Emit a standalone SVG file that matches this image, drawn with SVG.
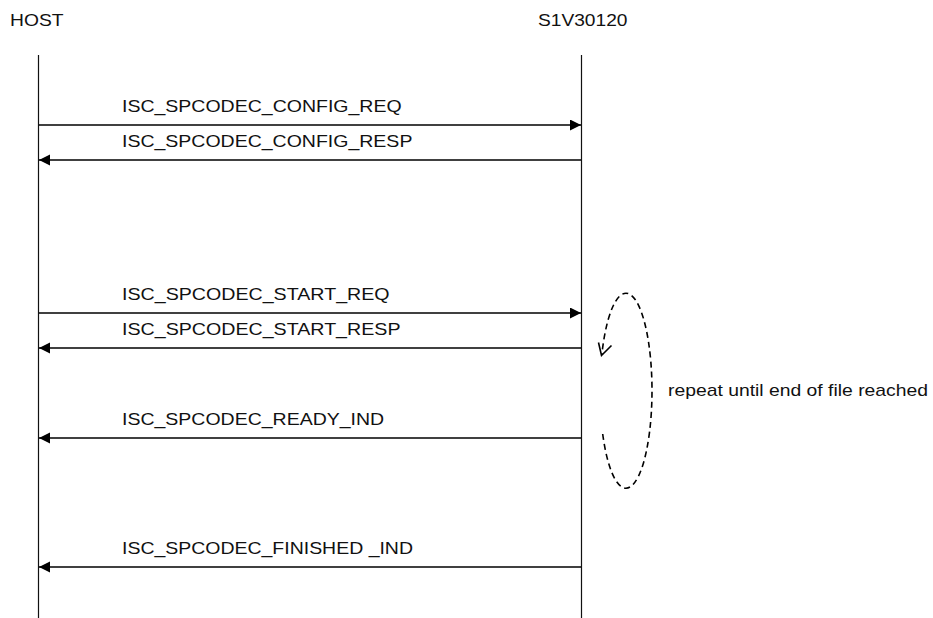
<svg xmlns="http://www.w3.org/2000/svg" width="933" height="618" viewBox="0 0 933 618">
<defs>
<style>
text{font-family:"Liberation Sans",Arial,sans-serif;font-size:17px;fill:#111}
.life{stroke:#111;stroke-width:1.2;fill:none}
.msg{stroke:#000;stroke-width:1.6;fill:none;marker-end:url(#ah)}
.loop{stroke:#000;stroke-width:1.6;fill:none;stroke-dasharray:6 4}
</style>
<marker id="ah" markerUnits="userSpaceOnUse" markerWidth="12" markerHeight="12" refX="11" refY="5.5" orient="auto">
<path d="M0,0 L11,5.5 L0,11 z" fill="#000"/>
</marker>
</defs>
<rect width="933" height="618" fill="#fff"/>
<g id="host">
<text x="10" y="26" textLength="53.5" lengthAdjust="spacingAndGlyphs">HOST</text>
<line class="life" x1="38.5" y1="55" x2="38.5" y2="618"/>
</g>
<g id="s1v30120">
<text x="538" y="26" textLength="89.5" lengthAdjust="spacingAndGlyphs">S1V30120</text>
<line class="life" x1="581.5" y1="55" x2="581.5" y2="618"/>
</g>
<g id="connectors">
<line class="msg" x1="39" y1="125" x2="581" y2="125"/>
<text x="122" y="112" textLength="279.6" lengthAdjust="spacingAndGlyphs">ISC_SPCODEC_CONFIG_REQ</text>
<line class="msg" x1="581" y1="160" x2="39" y2="160"/>
<text x="122" y="147" textLength="290.4" lengthAdjust="spacingAndGlyphs">ISC_SPCODEC_CONFIG_RESP</text>
<line class="msg" x1="39" y1="313" x2="581" y2="313"/>
<text x="122" y="300" textLength="267.6" lengthAdjust="spacingAndGlyphs">ISC_SPCODEC_START_REQ</text>
<line class="msg" x1="581" y1="348" x2="39" y2="348"/>
<text x="122" y="335" textLength="278.5" lengthAdjust="spacingAndGlyphs">ISC_SPCODEC_START_RESP</text>
<line class="msg" x1="581" y1="438" x2="39" y2="438"/>
<text x="122" y="425" textLength="262.2" lengthAdjust="spacingAndGlyphs">ISC_SPCODEC_READY_IND</text>
<line class="msg" x1="581" y1="567" x2="39" y2="567"/>
<text x="122" y="554" textLength="291" lengthAdjust="spacingAndGlyphs">ISC_SPCODEC_FINISHED _IND</text>
</g>
<g id="loop">
<path class="loop" d="M602.7,434 A26,97.5 0 1 0 601.8,355"/>
<path d="M598.5,342.5 L601.5,355.5 L611.5,345.5" stroke="#000" stroke-width="1.6" fill="none"/>
<text x="668" y="396" textLength="260" lengthAdjust="spacingAndGlyphs">repeat until end of file reached</text>
</g>
</svg>
